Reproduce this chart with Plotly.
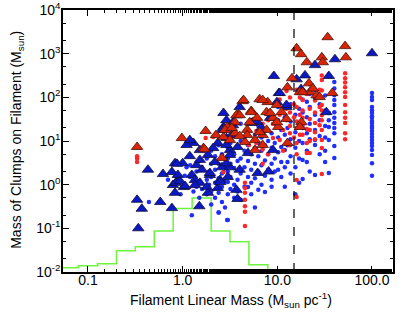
import plotly.graph_objects as go

# ---------------- data ----------------
red_tri_x = [0.33, 0.98, 1.75, 1.66, 2.25, 2.6, 4.3, 3.8, 5.3, 2.95, 3.57, 3.7,
             16, 17.8, 20.5, 14.3, 12.8, 17.3, 22, 26, 4.4, 6.5, 7.9, 5.3, 7.7, 9.9, 11.1,
             4.0, 3.57, 4.8, 6.1, 9.0, 10.2, 2.8, 7.7, 2.7, 4.8, 5.8, 7.0, 7.0, 4.55, 12.8, 9.9,
             34, 52, 53, 29.5, 30.2, 21.6, 23.8, 18.5, 28, 38, 18,
             7.0, 12.5, 17.3, 8.4, 3.3, 3.16, 4.0, 5.1, 6.5, 5.8, 1.7]
red_tri_y = [7.3, 11.7, 17, 6.9, 13.7, 4.1, 82, 41, 49, 21, 15, 39,
             1340, 980, 640, 275, 170, 132, 132, 112, 87, 91, 78, 46, 46, 67, 46,
             39, 27, 18, 34, 34, 21, 18, 18, 12.3, 13.7, 10.5, 13.7, 8.1, 9.5, 9.0, 27,
             2400, 1500, 830, 830, 640, 210, 160, 132, 102, 126, 27,
             87, 32, 21, 44, 20, 10.5, 13, 27, 16, 6.2, 6.5]

blue_tri_x = [25, 40.6, 100, 19.6, 35, 18, 33, 9.2, 16, 10.4, 2.7, 17.8, 9.9, 4.0, 12.5,
              5.5, 3.4, 2.7, 2.9, 1.3, 1.19, 0.43, 0.83, 1.0, 0.62, 0.77, 0.89, 0.79, 1.03,
              1.25, 1.4, 1.52, 1.6, 1.94, 1.35, 1.52, 1.8, 2.19, 2.6, 3.16, 2.48, 2.35, 3.0,
              2.35, 2.9, 2.6, 3.16, 3.7, 0.87, 0.89, 0.85, 0.94, 1.06, 0.83, 0.33, 0.37, 0.58,
              0.77, 0.34, 1.5, 3.8, 1.35, 1.94, 1.85, 3.4, 5.3, 3.8, 4.9, 2.9, 4.0, 2.5, 6.2,
              8.1, 3.16, 2.9, 9.0, 8.4, 6.8, 6.1, 2.1, 3.3, 1.85, 1.52, 1.1, 1.19, 10.6, 12.5]
blue_tri_y = [550, 750, 1030, 320, 310, 140, 46, 310, 260, 126, 44, 155, 78, 60, 60,
              27, 23, 21, 30, 9.0, 4.5, 2.2, 3.1, 3.1, 1.75, 1.95, 1.28, 0.98, 0.88,
              1.67, 2.8, 3.7, 2.2, 1.67, 1.28, 1.1, 0.88, 3.3, 2.5, 2.5, 1.28, 0.84, 1.5,
              9.0, 11.7, 18, 6.2, 0.76, 3.0, 1.67, 1.1, 1.2, 0.93, 0.65, 0.45, 0.28, 0.40,
              0.29, 0.10, 0.32, 0.47, 0.98, 1.85, 0.65, 27, 26, 7.3, 5.3, 3.1, 2.2, 1.15, 1.85,
              2.0, 4.8, 8.1, 6.2, 34, 20, 28, 6.9, 13.7, 4.8, 6.2, 8.1, 10.5, 126, 67]

red_dot_x = [0.33, 0.33, 0.33, 1.75, 3.3, 2.1,
             4.55, 4.55, 4.55, 4.55, 4.55, 4.55, 4.55,
             2.7, 5.0, 6.0, 6.0, 7.0, 7.0, 7.0, 8.0, 8.0,
             9.0, 9.0, 10.6, 10.6, 10.6, 11.5, 11.5, 12.5, 12.5, 12.5,
             13.6, 13.6, 13.6, 13.6, 13.6, 15, 15, 15,
             16, 16, 16, 16, 16, 16, 16, 16,
             17.3, 17.3, 17.3, 18.5, 18.5, 18.5, 18.5, 18.5,
             20.5, 20.5, 20.5, 20.5, 22, 22, 22, 22, 22, 22,
             25, 25, 25, 25, 25, 28, 28, 28,
             29.5, 29.5, 29.5, 29.5, 29.5, 29.5, 29.5, 29.5, 29.5, 29.5, 29.5, 29.5,
             52, 52, 52, 52, 52, 52, 52, 52, 52, 52, 52, 52]
red_dot_y = [4.5, 4.0, 3.3, 11.7, 12.3, 12.3,
             1.1, 0.84, 0.65, 0.45, 0.32, 0.24, 0.113,
             1.95, 8.0, 9.0, 17, 3.0, 6.5, 25, 5.0, 30,
             11.7, 25, 10.5, 40, 90, 18, 6.0, 30, 55, 140,
             8.0, 15, 22, 45, 100, 12, 35, 70,
             1.28, 0.52, 5.0, 9.0, 20, 28, 60, 150,
             14, 40, 100, 87, 50, 34, 23, 14,
             5.3, 9.0, 19, 120, 5.3, 10, 18, 32, 55, 200,
             11, 16, 26, 45, 85, 23, 60, 150,
             1.75, 6.9, 10.5, 18, 30, 39, 50, 67, 100, 145, 250, 320,
             11, 15, 26, 34, 46, 67, 102, 132, 170, 220, 275, 360]

blue_dot_x = [1.2, 1.2, 1.4, 1.4, 1.5, 1.5, 1.5, 1.6, 1.6, 1.8, 1.8, 1.8, 1.9, 1.9,
              2.0, 2.0, 2.0, 2.0, 2.0, 2.2, 2.2, 2.2, 2.2, 2.4, 2.4, 2.4, 2.4, 2.4,
              2.6, 2.6, 2.6, 2.6, 2.8, 2.8, 2.8, 2.8, 3.0, 3.0, 3.0, 3.0, 3.0, 3.0,
              3.2, 3.2, 3.2, 3.2, 3.2, 3.5, 3.5, 3.5, 3.5, 3.5, 3.8, 3.8, 3.8, 3.8,
              4.1, 4.1, 4.1, 4.1, 4.1, 4.5, 4.5, 4.5, 4.5, 4.9, 4.9, 4.9, 4.9, 4.9,
              5.3, 5.3, 5.3, 5.3, 5.3, 5.8, 5.8, 5.8, 5.8, 5.8, 6.3, 6.3, 6.3, 6.3, 6.3,
              6.8, 6.8, 6.8, 6.8, 7.4, 7.4, 7.4, 7.4, 7.4, 8.0, 8.0, 8.0, 8.0,
              8.7, 8.7, 8.7, 8.7, 8.7, 9.4, 9.4, 9.4, 9.4, 10.2, 10.2, 10.2, 10.2, 10.2,
              11, 11, 11, 11, 12, 12, 12, 12, 12, 12.8, 12.8, 12.8,
              13.8, 13.8, 13.8, 13.8, 13.8, 15.5, 15.5, 15.5, 15.5, 15.5,
              17, 17, 17, 17, 17, 18.5, 18.5, 18.5, 18.5, 18.5, 18.5,
              20.5, 20.5, 20.5, 20.5, 20.5, 22, 22, 22, 22, 22,
              25, 25, 25, 25, 25, 25, 25, 28, 28, 28, 28,
              32, 32, 32, 32, 32, 32, 35, 35, 35, 35, 35,
              40, 40, 40, 40, 40, 40, 40, 40, 40, 40, 40, 40,
              100, 100, 100, 100, 100, 100, 100, 100, 100, 100, 100,
              100, 100, 100, 100, 100, 100, 100, 100, 100, 100, 100,
              0.44, 1.25, 2.4, 2.95, 1.1, 0.95, 1.05, 1.3, 0.7]
blue_dot_y = [1.5, 2.8, 0.9, 2.0, 0.5, 1.2, 3.5, 0.8, 2.5, 0.6, 1.3, 4.0, 1.0, 2.0,
              0.35, 0.7, 1.5, 3.0, 6.0, 0.5, 1.1, 2.2, 4.5, 0.23, 0.65, 1.4, 3.0, 8.0,
              0.4, 0.9, 1.8, 5.0, 0.3, 1.2, 2.5, 12, 0.155, 0.6, 1.15, 2.0, 4.0, 7.0,
              0.8, 1.5, 3.0, 9.0, 20, 0.5, 1.0, 2.4, 5.0, 15, 0.7, 1.3, 3.5, 7.0,
              0.45, 1.8, 4.0, 10, 25, 0.9, 2.5, 6.0, 12, 0.88, 1.5, 3.5, 8.0, 18,
              0.6, 1.1, 2.2, 5.0, 30, 0.3, 1.4, 3.0, 7.0, 14, 0.76, 2.0, 4.5, 9.0, 22,
              1.0, 2.8, 6.0, 12, 0.68, 1.6, 3.6, 8.0, 17, 2.2, 5.0, 10, 40,
              0.9, 1.3, 3.0, 7.0, 15, 2.0, 4.0, 9.0, 25, 2.2, 5.5, 12, 30, 60,
              1.5, 3.3, 7.3, 18, 0.9, 2.5, 6.2, 14, 35, 3.3, 8.0, 20,
              1.8, 4.5, 11, 28, 70, 0.6, 2.5, 7.0, 16, 40,
              1.1, 4.0, 10, 25, 55, 1.35, 3.7, 9, 20, 45, 90,
              3.3, 6.0, 15, 35, 80, 2.0, 11, 25, 60, 120,
              1.67, 8.1, 10.5, 18, 40, 95, 150, 5.0, 13, 30, 70,
              3.3, 6.0, 12, 22, 50, 110, 1.85, 10.5, 21, 30, 44,
              4.1, 7.7, 15, 20, 26, 34, 46, 67, 87, 112, 160, 225,
              126, 102, 87, 60, 51, 44, 37, 34, 28.7, 26, 22,
              20, 17, 14.5, 12.3, 10.5, 9.0, 7.7, 6.2, 4.8, 3.1, 1.6,
              0.40, 0.2, 0.23, 0.155, 2.5, 0.6, 1.6, 0.7, 1.3]

# histogram of filament linear masses (step outline)
hist_edges = [0.0501, 0.0794, 0.126, 0.200, 0.316, 0.501, 0.794, 1.26, 2.00,
              3.16, 5.01, 7.94, 12.6, 16.5]
hist_values = [0.0124, 0.0138, 0.0153, 0.0304, 0.0375, 0.087, 0.285, 0.497,
               0.087, 0.049, 0.0145, 0.0106, 0.0101]

critical_line_mass = 15.0

x_tick_vals = [0.1, 1.0, 10.0, 100.0]
x_tick_text = ["0.1", "1.0", "10.0", "100.0"]
y_tick_vals = [1e-2, 1e-1, 1e0, 1e1, 1e2, 1e3, 1e4]
y_tick_text = ["10<sup>-2</sup>", "10<sup>-1</sup>", "10<sup>0</sup>", "10<sup>1</sup>",
               "10<sup>2</sup>", "10<sup>3</sup>", "10<sup>4</sup>"]

# ---------------- figure ----------------
FONT = "Liberation Sans, Arial, Helvetica, sans-serif"
fig = go.Figure()

fig.add_trace(go.Scatter(
    x=hist_edges, y=hist_values + [hist_values[-1]], mode="lines",
    line=dict(color="#6cf53c", width=1.5, shape="hv"), hoverinfo="skip"))

fig.add_trace(go.Scatter(
    x=blue_dot_x, y=blue_dot_y, mode="markers",
    marker=dict(symbol="circle", size=4.5, color="#1f2dff", line=dict(width=0))))
fig.add_trace(go.Scatter(
    x=red_dot_x, y=red_dot_y, mode="markers",
    marker=dict(symbol="circle", size=4.5, color="#ff2626", line=dict(width=0))))
fig.add_trace(go.Scatter(
    x=blue_tri_x, y=blue_tri_y, mode="markers",
    marker=dict(symbol="triangle-up", size=10, color="#0b18c4",
                line=dict(width=0.8, color="#10103a"))))
fig.add_trace(go.Scatter(
    x=red_tri_x, y=red_tri_y, mode="markers",
    marker=dict(symbol="triangle-up", size=10, color="#d82508",
                line=dict(width=0.8, color="#4a1208"))))

fig.add_shape(type="line", xref="x", yref="paper",
              x0=critical_line_mass, x1=critical_line_mass, y0=0, y1=1,
              line=dict(color="black", width=1.2, dash="dash"))

axis_common = dict(
    type="log", showline=True, linecolor="black", linewidth=1.5, mirror="ticks",
    ticks="inside", ticklen=6, tickwidth=1, tickcolor="black",
    showgrid=False, zeroline=False, automargin=False, ticklabeloverflow="allow",
    minor=dict(ticks="inside", ticklen=3, tickwidth=1, tickcolor="black", showgrid=False),
    tickfont=dict(family=FONT, size=14, color="black"),
)

fig.update_xaxes(
    **axis_common, range=[-1.264, 2.222],
    tickmode="array", tickvals=x_tick_vals, ticktext=x_tick_text,
    ticklabelstandoff=-6,
)
fig.update_yaxes(
    **axis_common, range=[-2.002, 4.004],
    tickmode="array", tickvals=y_tick_vals, ticktext=y_tick_text,
    ticklabelstandoff=-2,
)

fig.add_annotation(
    text="Filament Linear Mass (M<sub>sun</sub> pc<sup>-1</sup>)",
    xref="paper", yref="paper", x=0.51, y=-0.107, xanchor="center", yanchor="middle",
    showarrow=False, font=dict(family=FONT, size=14, color="black"))
fig.add_annotation(
    text="Mass of Clumps on Filament (M<sub>sun</sub>)", textangle=-90,
    xref="paper", yref="paper", x=-0.139, y=0.505, xanchor="center", yanchor="middle",
    showarrow=False, font=dict(family=FONT, size=14, color="black"))

fig.update_layout(
    width=403, height=316,
    margin=dict(l=63, r=10, t=10, b=44),
    paper_bgcolor="white", plot_bgcolor="white",
    showlegend=False,
    font=dict(family=FONT, color="black"),
)

# remove the browser's default 8 px body margin so the figure sits at the page origin
fig.write_html("out.html", config={"displayModeBar": False},
               post_script="document.body.style.margin='0px';")
